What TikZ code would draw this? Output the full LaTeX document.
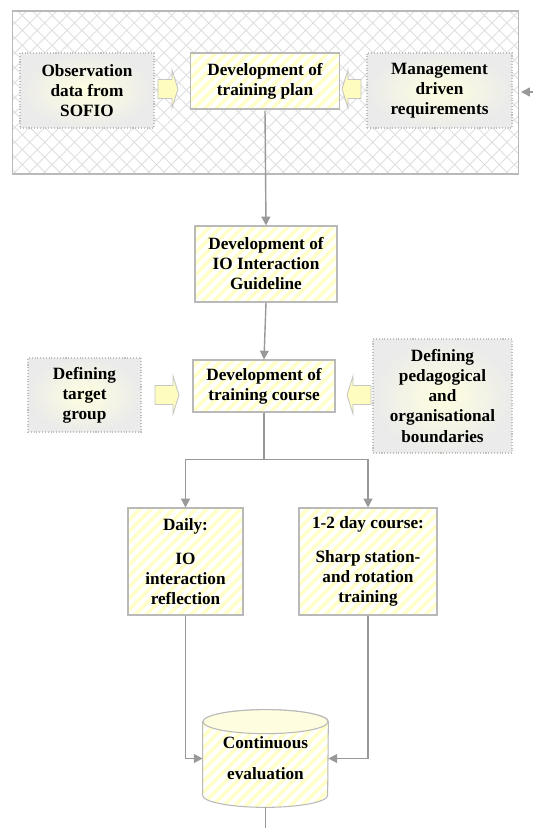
\documentclass[tikz,border=0pt]{standalone}
\usepackage{fontspec}
\setmainfont{Liberation Serif}
\usetikzlibrary{arrows.meta,patterns.meta,backgrounds}

\begin{document}
\begin{tikzpicture}[x=0.02cm, y=-0.02cm,
        every node/.style={font=\fontsize{9.8}{11.4}\selectfont\bfseries, align=center, inner sep=1pt},
        stripebox/.style={draw=gray!55, line width=0.6pt, preaction={fill=white},
            pattern={Lines[angle=45, distance=4.5pt, line width=2pt]}, pattern color=yellow!22},
        greybox/.style={draw=gray!50, densely dotted, line width=0.6pt, inner color=yellow!12, outer color=black!8},
        blockarrow/.style={draw=gray!45, fill=yellow!25, line width=0.5pt, line join=miter},
        flow/.style={draw=gray!80, line width=0.8pt, -{Triangle[length=5pt, width=5pt]}}
    ]
    \useasboundingbox (0,0) rectangle (533,828);

    % planning area
    \node[draw=gray!55, line width=0.6pt, preaction={fill=white},
        pattern={Hatch[angle=45, distance=6pt, line width=0.5pt]}, pattern color=gray!25,
        minimum width=10.14cm, minimum height=3.26cm] (planarea) at (265.5,92.5) {};
    \node[greybox, minimum width=2.68cm, minimum height=1.5cm] (sofio) at (87,90.5) {Observation\\data from\\SOFIO};
    \node[stripebox, minimum width=2.99cm, minimum height=1.12cm] (plan) at (265,81) {Development of\\training plan};
    \node[greybox, minimum width=2.9cm, minimum height=1.5cm] (mgmt) at (439.5,90.5) {Management\\driven\\requirements};
    \coordinate (sofioarr) at (158,89);
    \coordinate (mgmtarr) at (361,89);
    \draw[blockarrow] (sofioarr) ++(0,-9.5) -- ++(14,0) -- ++(0,-9.5) -- ++(6,19) -- ++(-6,19) -- ++(0,-9.5) -- ++(-14,0) -- cycle;
    \draw[blockarrow] (mgmtarr) ++(0,-9.5) -- ++(-13,0) -- ++(0,-9.5) -- ++(-6,19) -- ++(6,19) -- ++(0,-9.5) -- ++(13,0) -- cycle;
    \coordinate (mgmtin) at (533,92);
    \coordinate (mgmtend) at (521,92);
    \draw[flow] (mgmtin) -- (mgmtend);

    % guideline and course
    \node[stripebox, minimum width=2.84cm, minimum height=1.52cm] (guide) at (266,264) {Development of\\IO Interaction\\Guideline};
    \node[stripebox, minimum width=2.84cm, minimum height=1.04cm] (course) at (264,386) {Development of\\training course};
    \node[greybox, minimum width=2.26cm, minimum height=1.48cm] (target) at (84.5,395) {Defining\\target\\group};
    \node[greybox, minimum width=2.78cm, minimum height=2.28cm] (bounds) at (442.5,396) {Defining\\pedagogical\\and\\organisational\\boundaries};
    \coordinate (targetarr) at (155,395);
    \coordinate (boundsarr) at (371,395);
    \draw[blockarrow] (targetarr) ++(0,-9.5) -- ++(18,0) -- ++(0,-9.5) -- ++(6,19) -- ++(-6,19) -- ++(0,-9.5) -- ++(-18,0) -- cycle;
    \draw[blockarrow] (boundsarr) ++(0,-9.5) -- ++(-18,0) -- ++(0,-9.5) -- ++(-6,19) -- ++(6,19) -- ++(0,-9.5) -- ++(18,0) -- cycle;

    % training forms
    \node[stripebox, minimum width=2.3cm, minimum height=2.14cm] (daily) at (185.5,561.5) {Daily:\\[0.28cm]IO\\interaction\\reflection};
    \node[stripebox, minimum width=2.76cm, minimum height=2.14cm] (course12) at (368,561.5) {1-2 day course:\\[0.28cm]Sharp station-\\and rotation\\training};

    % evaluation store
    \node[minimum width=2.5cm, minimum height=1.94cm] (evalu) at (265.5,758.5) {Continuous\\[0.22cm]evaluation};
    \begin{scope}[on background layer]
        \path[stripebox] ([yshift=-0.24cm]evalu.north west) -- ([yshift=0.24cm]evalu.south west)
            arc[start angle=180, end angle=360, x radius=1.25cm, y radius=0.24cm]
            -- ([yshift=-0.24cm]evalu.north east)
            arc[start angle=0, end angle=180, x radius=1.25cm, y radius=0.24cm] -- cycle;
        \draw[draw=gray!55, line width=0.6pt, fill=yellow!12] ([yshift=-0.24cm]evalu.north) ellipse [x radius=1.25cm, y radius=0.24cm];
    \end{scope}
    \coordinate (evalout) at (265.5,828);

    \draw[flow] (plan.south) -- (guide.north);
    \draw[flow] (guide.south) -- (course.north);
    \draw[flow] (course.south) -- ++(0,47) -| (daily.north);
    \draw[flow] (course.south) -- ++(0,47) -| (course12.north);
    \draw[flow] (daily.south) |- (evalu.west);
    \draw[flow] (course12.south) |- (evalu.east);
    \draw[flow, -] (evalu.south) -- (evalout);
\end{tikzpicture}
\end{document}
